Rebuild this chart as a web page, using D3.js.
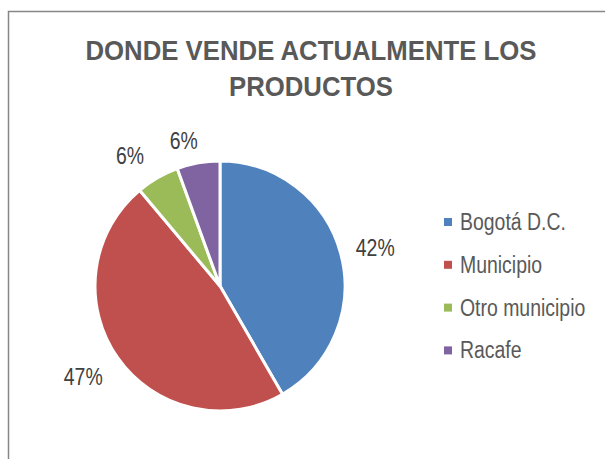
<!DOCTYPE html>
<html>
<head>
<meta charset="utf-8">
<script src="https://cdn.jsdelivr.net/npm/d3@7"></script>
<style>
  body { margin: 0; background: #fff; }
  text { font-family: "Liberation Sans", Arial, sans-serif; }
</style>
</head>
<body>
<div id="chart"></div>
<script>
// Chart data
const categories = ["Bogotá D.C.", "Municipio", "Otro municipio", "Racafe"];
const counts = [15, 17, 2, 2];
const colors = ["#4F81BD", "#C0504D", "#9BBB59", "#8064A2"];
const titleLines = ["DONDE VENDE ACTUALMENTE LOS", "PRODUCTOS"];

const width = 605;
const height = 459;
const narrow = 0.81; // condense to mimic Arial Narrow

const svg = d3.select("#chart")
    .append("svg")
    .attr("width", width)
    .attr("height", height);

// Chart area border
svg.append("rect")
    .attr("x", 8.5)
    .attr("y", 11.5)
    .attr("width", 700)
    .attr("height", 600)
    .attr("fill", "none")
    .attr("stroke", "#868686")
    .attr("stroke-width", 1.5);

// Title
svg.selectAll("text.title")
    .data(titleLines)
    .join("text")
    .attr("class", "title")
    .attr("transform", (d, i) => `translate(311,${60 + i * 36}) scale(0.92,1)`)
    .attr("text-anchor", "middle")
    .attr("font-size", 28)
    .attr("font-weight", "bold")
    .attr("fill", "#595959")
    .text(d => d);

// Pie
const cx = 220, cy = 286, radius = 125;
const total = d3.sum(counts);
const data = categories.map((c, i) => ({ name: c, value: counts[i], color: colors[i] }));

const pie = d3.pie().sort(null).value(d => d.value);
const arcs = pie(data);
const arc = d3.arc().innerRadius(0).outerRadius(radius);

const g = svg.append("g").attr("transform", `translate(${cx},${cy})`);

g.selectAll("path")
    .data(arcs)
    .join("path")
    .attr("d", arc)
    .attr("fill", d => d.data.color)
    .attr("stroke", "#fff")
    .attr("stroke-width", 3)
    .attr("stroke-linejoin", "round");

// Data labels, outside end
const labelR = [160, 164, 159, 150];
const labelShift = [1, 1.5, -4.5, -4]; // degrees
g.selectAll("text.label")
    .data(arcs)
    .join("text")
    .attr("class", "label")
    .attr("transform", (d, i) => {
        const a = (d.startAngle + d.endAngle) / 2 + labelShift[i] * Math.PI / 180;
        const r = labelR[i];
        return `translate(${Math.sin(a) * r},${-Math.cos(a) * r}) scale(${narrow},1)`;
    })
    .attr("text-anchor", "middle")
    .attr("dy", "0.36em")
    .attr("font-size", 24)
    .attr("fill", "#404040")
    .text(d => Math.round(d.data.value / total * 100) + "%");

// Legend
const legend = svg.append("g").attr("transform", "translate(444,230)");
const rows = legend.selectAll("g")
    .data(data)
    .join("g")
    .attr("transform", (d, i) => `translate(0,${i * 42.8})`);

rows.append("rect")
    .attr("x", 0)
    .attr("y", -12)
    .attr("width", 8)
    .attr("height", 8)
    .attr("fill", d => d.color);

rows.append("text")
    .attr("transform", `translate(16,0) scale(${narrow},1)`)
    .attr("font-size", 24)
    .attr("fill", "#595959")
    .text(d => d.name);
</script>
</body>
</html>
